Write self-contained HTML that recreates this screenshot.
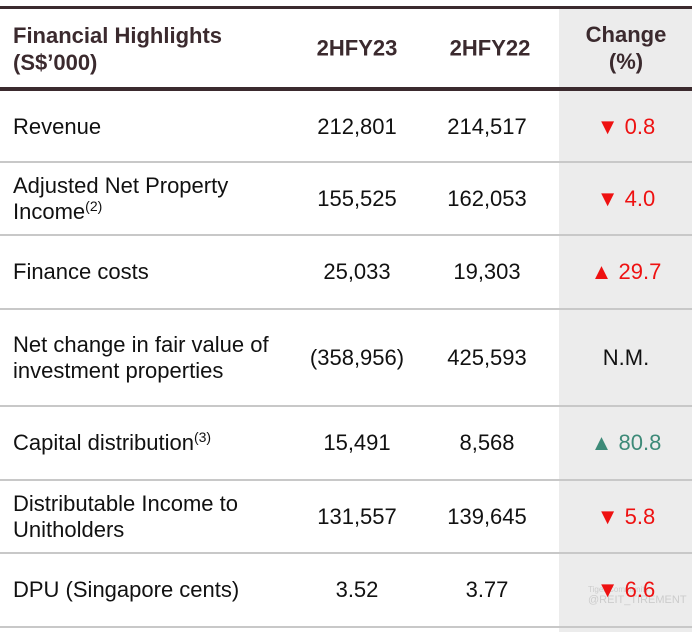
<!DOCTYPE html>
<html><head><meta charset="utf-8"><style>
body{margin:0;width:696px;height:632px;background:#fff;position:relative;overflow:hidden;font-family:"Liberation Sans",Arial,sans-serif;}
.a{position:absolute;}
.grey{left:559px;top:8px;width:133px;height:624px;background:#ececec;}
.hl{left:0;width:692px;background:#3b2a2e;}
.rl{left:0;width:692px;height:2px;background:#c8c8c8;}
.t{font-size:22px;color:#111;line-height:26px;}
.h{font-size:22px;font-weight:bold;color:#3b2a2e;line-height:27px;}
.c{transform:translate(-50%,-50%);white-space:nowrap;text-align:center;}
.l{left:13px;transform:translateY(-50%);white-space:nowrap;}
sup{font-size:14px;vertical-align:8px;line-height:0;}
.red{color:#ee1111;}.grn{color:#3d8a78;}
</style></head><body>
<div class="a grey"></div>
<div class="a hl" style="top:6px;height:3px"></div>
<div class="a hl" style="top:87px;height:4px"></div>
<div class="a h" style="left:13px;top:22px">Financial Highlights<br>(S$’000)</div>
<div class="a h c" style="left:357px;top:48px">2HFY23</div>
<div class="a h c" style="left:490px;top:48px">2HFY22</div>
<div class="a h c" style="left:626px;top:48px">Change<br>(%)</div>
<div id="rows"></div>
<div class="a" style="left:588px;top:585px;font-size:8px;color:#ccc;line-height:10px">Tiger Community<br><span style="font-size:11px">@REIT_TIREMENT</span></div>
<script>
const labels=["Revenue","Adjusted Net Property<br>Income<sup>(2)</sup>","Finance costs","Net change in fair value of<br>investment properties","Capital distribution<sup>(3)</sup>","Distributable Income to<br>Unitholders","DPU (Singapore cents)"];
const v23=["212,801","155,525","25,033","(358,956)","15,491","131,557","3.52"];
const v22=["214,517","162,053","19,303","425,593","8,568","139,645","3.77"];
const chg=["▼ 0.8","▼ 4.0","▲ 29.7","N.M.","▲ 80.8","▼ 5.8","▼ 6.6"];
const cls=["red","red","red","","grn","red","red"];
const bounds=[91,162,235,309,406,480,553,627];
const root=document.body;
for(let i=0;i<labels.length;i++){
 const cy=(bounds[i]+bounds[i+1])/2;
 const mk=(html,x,c)=>{const d=document.createElement('div');d.className='a t '+c;d.style.top=cy+'px';if(x!==null)d.style.left=x+'px';d.innerHTML=html;root.appendChild(d);return d;};
 const a=mk(labels[i],null,'l');
 
 
 const b=mk(v23[i],357,'c');
 
 
 const c=mk(v22[i],487,'c');
 
 
 const d=mk(chg[i],626,'c '+cls[i]);
 
 
 const ln=document.createElement('div');ln.className='a rl';ln.style.top=(bounds[i+1]-1)+'px';
 
 
 root.appendChild(ln);
}
</script>
</body></html>
